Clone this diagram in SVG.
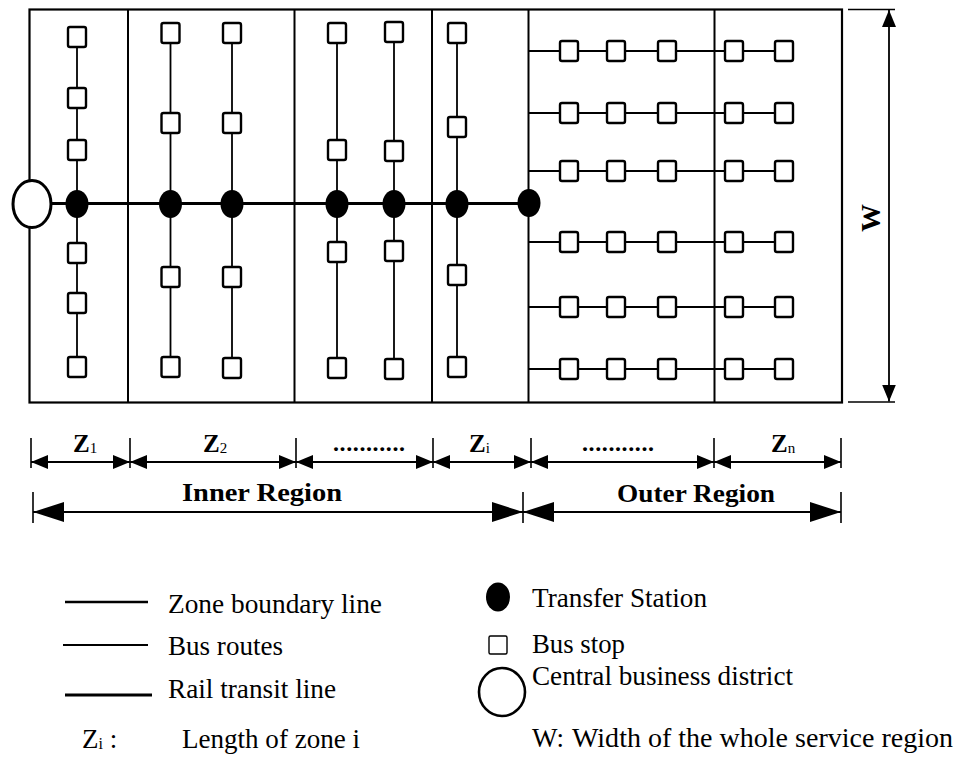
<svg xmlns="http://www.w3.org/2000/svg" width="958" height="758" viewBox="0 0 958 758">
<style>
.frame{fill:none;stroke:#000;stroke-width:2.2}
.zone{stroke:#000;stroke-width:2}
.bus{stroke:#000;stroke-width:1.8;fill:none}
.rail{stroke:#000;stroke-width:3.2}
.stop{fill:#fff;stroke:#000;stroke-width:2.4}
.lstop{fill:#fff;stroke:#000;stroke-width:1.4}
.station{fill:#000}
.cbd{fill:#fff;stroke:#000;stroke-width:3}
.dim{stroke:#000;stroke-width:1.8;fill:none}
.dimS{marker-start:url(#ah);marker-end:url(#ah)}
.dimL{marker-start:url(#ahL);marker-end:url(#ahL)}
.tick{stroke:#000;stroke-width:1.6}
text{font-family:"Liberation Serif","Times New Roman",serif;fill:#000}
.lg{font-size:27px}
.zl{font-size:25px;font-weight:bold}
.sub{font-size:15px;font-weight:normal}
.reg{font-size:25px;font-weight:bold}
.dots{font-size:24px;font-weight:bold}
</style>
<defs>
<marker id="ah" markerUnits="userSpaceOnUse" markerWidth="17" markerHeight="14" refX="17" refY="7" orient="auto-start-reverse" viewBox="0 0 17 14"><path d="M0,0 L17,7 L0,14 z" fill="#000"/></marker>
<marker id="ahL" markerUnits="userSpaceOnUse" markerWidth="31" markerHeight="20" refX="31" refY="10" orient="auto-start-reverse" viewBox="0 0 31 20"><path d="M0,0 L31,10 L0,20 z" fill="#000"/></marker>
</defs>

<g id="region-frame">
<rect class="frame" x="29.5" y="9.5" width="812.5" height="393"/>
<line class="zone" x1="128" y1="9.5" x2="128" y2="402.5"/>
<line class="zone" x1="294.5" y1="9.5" x2="294.5" y2="402.5"/>
<line class="zone" x1="432" y1="9.5" x2="432" y2="402.5"/>
<line class="zone" x1="528.5" y1="9.5" x2="528.5" y2="402.5"/>
<line class="zone" x1="714.5" y1="9.5" x2="714.5" y2="402.5"/>
</g>

<g id="connectors">
<line class="bus" x1="77" y1="37" x2="77" y2="367"/>
<line class="bus" x1="170.5" y1="33" x2="170.5" y2="367"/>
<line class="bus" x1="232" y1="33" x2="232" y2="368"/>
<line class="bus" x1="337" y1="33" x2="337" y2="368"/>
<line class="bus" x1="394" y1="32" x2="394" y2="369"/>
<line class="bus" x1="457" y1="33" x2="457" y2="367"/>
<line class="bus" x1="528.5" y1="51" x2="784" y2="51"/>
<line class="bus" x1="528.5" y1="113" x2="784" y2="113"/>
<line class="bus" x1="528.5" y1="171" x2="784" y2="171"/>
<line class="bus" x1="528.5" y1="242" x2="784" y2="242"/>
<line class="bus" x1="528.5" y1="307" x2="784" y2="307"/>
<line class="bus" x1="528.5" y1="369" x2="784" y2="369"/>
<line class="rail" x1="50" y1="203.5" x2="529" y2="203.5"/>
</g>

<g id="cbd"><ellipse class="cbd" cx="32" cy="204" rx="19" ry="23.5"/></g>

<g id="stations">
<g id="ts1"><ellipse class="station" cx="77" cy="204" rx="11.5" ry="14"/></g>
<g id="ts2"><ellipse class="station" cx="170.5" cy="204" rx="11.5" ry="14"/></g>
<g id="ts3"><ellipse class="station" cx="232" cy="204" rx="11.5" ry="14"/></g>
<g id="ts4"><ellipse class="station" cx="337" cy="204" rx="11.5" ry="14"/></g>
<g id="ts5"><ellipse class="station" cx="394" cy="204" rx="11.5" ry="14"/></g>
<g id="ts6"><ellipse class="station" cx="457" cy="204" rx="11.5" ry="14"/></g>
<g id="ts7"><ellipse class="station" cx="529" cy="203" rx="11.5" ry="14"/></g>
</g>

<g id="stops">
<g id="s1-1"><rect class="stop" x="68" y="27" width="18" height="20" rx="2"/></g>
<g id="s1-2"><rect class="stop" x="68" y="88" width="18" height="20" rx="2"/></g>
<g id="s1-3"><rect class="stop" x="68" y="140" width="18" height="20" rx="2"/></g>
<g id="s1-4"><rect class="stop" x="68" y="243" width="18" height="20" rx="2"/></g>
<g id="s1-5"><rect class="stop" x="68" y="293" width="18" height="20" rx="2"/></g>
<g id="s1-6"><rect class="stop" x="68" y="357" width="18" height="20" rx="2"/></g>

<g id="s2-1"><rect class="stop" x="161.5" y="23" width="18" height="20" rx="2"/></g>
<g id="s2-2"><rect class="stop" x="161.5" y="113" width="18" height="20" rx="2"/></g>
<g id="s2-3"><rect class="stop" x="161.5" y="267" width="18" height="20" rx="2"/></g>
<g id="s2-4"><rect class="stop" x="161.5" y="357" width="18" height="20" rx="2"/></g>

<g id="s3-1"><rect class="stop" x="223" y="23" width="18" height="20" rx="2"/></g>
<g id="s3-2"><rect class="stop" x="223" y="113" width="18" height="20" rx="2"/></g>
<g id="s3-3"><rect class="stop" x="223" y="267" width="18" height="20" rx="2"/></g>
<g id="s3-4"><rect class="stop" x="223" y="358" width="18" height="20" rx="2"/></g>

<g id="s4-1"><rect class="stop" x="328" y="23" width="18" height="20" rx="2"/></g>
<g id="s4-2"><rect class="stop" x="328" y="140" width="18" height="20" rx="2"/></g>
<g id="s4-3"><rect class="stop" x="328" y="242" width="18" height="20" rx="2"/></g>
<g id="s4-4"><rect class="stop" x="328" y="358" width="18" height="20" rx="2"/></g>

<g id="s5-1"><rect class="stop" x="385" y="22" width="18" height="20" rx="2"/></g>
<g id="s5-2"><rect class="stop" x="385" y="141" width="18" height="20" rx="2"/></g>
<g id="s5-3"><rect class="stop" x="385" y="241" width="18" height="20" rx="2"/></g>
<g id="s5-4"><rect class="stop" x="385" y="359" width="18" height="20" rx="2"/></g>

<g id="s6-1"><rect class="stop" x="448" y="23" width="18" height="20" rx="2"/></g>
<g id="s6-2"><rect class="stop" x="448" y="117" width="18" height="20" rx="2"/></g>
<g id="s6-3"><rect class="stop" x="448" y="265" width="18" height="20" rx="2"/></g>
<g id="s6-4"><rect class="stop" x="448" y="357" width="18" height="20" rx="2"/></g>

<g id="o1-1"><rect class="stop" x="560" y="41" width="18" height="20" rx="2"/></g>
<g id="o1-2"><rect class="stop" x="607" y="41" width="18" height="20" rx="2"/></g>
<g id="o1-3"><rect class="stop" x="658" y="41" width="18" height="20" rx="2"/></g>
<g id="o1-4"><rect class="stop" x="725" y="41" width="18" height="20" rx="2"/></g>
<g id="o1-5"><rect class="stop" x="775" y="41" width="18" height="20" rx="2"/></g>

<g id="o2-1"><rect class="stop" x="560" y="103" width="18" height="20" rx="2"/></g>
<g id="o2-2"><rect class="stop" x="607" y="103" width="18" height="20" rx="2"/></g>
<g id="o2-3"><rect class="stop" x="658" y="103" width="18" height="20" rx="2"/></g>
<g id="o2-4"><rect class="stop" x="725" y="103" width="18" height="20" rx="2"/></g>
<g id="o2-5"><rect class="stop" x="775" y="103" width="18" height="20" rx="2"/></g>

<g id="o3-1"><rect class="stop" x="560" y="161" width="18" height="20" rx="2"/></g>
<g id="o3-2"><rect class="stop" x="607" y="161" width="18" height="20" rx="2"/></g>
<g id="o3-3"><rect class="stop" x="658" y="161" width="18" height="20" rx="2"/></g>
<g id="o3-4"><rect class="stop" x="725" y="161" width="18" height="20" rx="2"/></g>
<g id="o3-5"><rect class="stop" x="775" y="161" width="18" height="20" rx="2"/></g>

<g id="o4-1"><rect class="stop" x="560" y="232" width="18" height="20" rx="2"/></g>
<g id="o4-2"><rect class="stop" x="607" y="232" width="18" height="20" rx="2"/></g>
<g id="o4-3"><rect class="stop" x="658" y="232" width="18" height="20" rx="2"/></g>
<g id="o4-4"><rect class="stop" x="725" y="232" width="18" height="20" rx="2"/></g>
<g id="o4-5"><rect class="stop" x="775" y="232" width="18" height="20" rx="2"/></g>

<g id="o5-1"><rect class="stop" x="560" y="297" width="18" height="20" rx="2"/></g>
<g id="o5-2"><rect class="stop" x="607" y="297" width="18" height="20" rx="2"/></g>
<g id="o5-3"><rect class="stop" x="658" y="297" width="18" height="20" rx="2"/></g>
<g id="o5-4"><rect class="stop" x="725" y="297" width="18" height="20" rx="2"/></g>
<g id="o5-5"><rect class="stop" x="775" y="297" width="18" height="20" rx="2"/></g>

<g id="o6-1"><rect class="stop" x="560" y="359" width="18" height="20" rx="2"/></g>
<g id="o6-2"><rect class="stop" x="607" y="359" width="18" height="20" rx="2"/></g>
<g id="o6-3"><rect class="stop" x="658" y="359" width="18" height="20" rx="2"/></g>
<g id="o6-4"><rect class="stop" x="725" y="359" width="18" height="20" rx="2"/></g>
<g id="o6-5"><rect class="stop" x="775" y="359" width="18" height="20" rx="2"/></g>
</g>

<g id="width-dimension">
<line class="tick" x1="848" y1="9.5" x2="895" y2="9.5"/>
<line class="tick" x1="848" y1="402" x2="895" y2="402"/>
<line class="dim dimS" x1="889" y1="10" x2="889" y2="401.5"/>
<text transform="translate(880,218) rotate(-90)" text-anchor="middle" style="font-size:28px;font-weight:bold">W</text>
</g>

<g id="zone-dimensions">
<line class="tick" x1="31" y1="438" x2="31" y2="468"/>
<line class="tick" x1="130" y1="438" x2="130" y2="468"/>
<line class="tick" x1="296" y1="438" x2="296" y2="468"/>
<line class="tick" x1="433" y1="438" x2="433" y2="468"/>
<line class="tick" x1="531" y1="438" x2="531" y2="468"/>
<line class="tick" x1="714" y1="438" x2="714" y2="468"/>
<line class="tick" x1="841" y1="438" x2="841" y2="468"/>
<line class="dim dimS" x1="31" y1="462" x2="130" y2="462"/>
<line class="dim dimS" x1="130" y1="462" x2="296" y2="462"/>
<line class="dim dimS" x1="296" y1="462" x2="433" y2="462"/>
<line class="dim dimS" x1="433" y1="462" x2="531" y2="462"/>
<line class="dim dimS" x1="531" y1="462" x2="714" y2="462"/>
<line class="dim dimS" x1="714" y1="462" x2="841" y2="462"/>
<text class="zl" x="73" y="452">Z<tspan class="sub" dy="1">1</tspan></text>
<text class="zl" x="203" y="452">Z<tspan class="sub" dy="1">2</tspan></text>
<text class="dots" x="333" y="451" textLength="72" lengthAdjust="spacing">...........</text>
<text class="zl" x="469" y="452">Z<tspan class="sub" dy="1">i</tspan></text>
<text class="dots" x="582" y="451" textLength="72" lengthAdjust="spacing">...........</text>
<text class="zl" x="771" y="452">Z<tspan class="sub" dy="1">n</tspan></text>
</g>

<g id="region-dimensions">
<line class="tick" x1="33" y1="492" x2="33" y2="523"/>
<line class="tick" x1="523" y1="492" x2="523" y2="523"/>
<line class="tick" x1="841" y1="492" x2="841" y2="523"/>
<line class="dim dimL" x1="33" y1="512" x2="523" y2="512"/>
<line class="dim dimL" x1="523" y1="512" x2="841" y2="512"/>
<text class="reg" x="182" y="501" textLength="160" lengthAdjust="spacingAndGlyphs">Inner Region</text>
<text class="reg" x="617" y="502" textLength="158" lengthAdjust="spacingAndGlyphs">Outer Region</text>
</g>

<g id="legend">
<line class="zone" x1="65" y1="602" x2="148" y2="602" style="stroke-width:2.4"/>
<text class="lg" x="168" y="613" textLength="214" lengthAdjust="spacingAndGlyphs">Zone boundary line</text>
<line class="bus" x1="63" y1="645" x2="148" y2="645"/>
<text class="lg" x="168" y="655" textLength="115" lengthAdjust="spacingAndGlyphs">Bus routes</text>
<line class="rail" x1="65" y1="695" x2="152" y2="695"/>
<text class="lg" x="168" y="698" textLength="168" lengthAdjust="spacingAndGlyphs">Rail transit line</text>
<text class="lg" x="82" y="748">Z<tspan style="font-size:16px" dy="1">i</tspan><tspan dy="-1"> :</tspan></text>
<text class="lg" x="182" y="748" textLength="178" lengthAdjust="spacingAndGlyphs">Length of zone i</text>

<ellipse class="station" cx="498" cy="597" rx="12" ry="14.5"/>
<text class="lg" x="532" y="607" textLength="175" lengthAdjust="spacingAndGlyphs">Transfer Station</text>
<rect class="lstop" x="489" y="636" width="18" height="18" rx="1.5"/>
<text class="lg" x="532" y="653" textLength="93" lengthAdjust="spacingAndGlyphs">Bus stop</text>
<ellipse class="cbd" cx="502" cy="692" rx="23" ry="24" style="stroke-width:2.6"/>
<text class="lg" x="532" y="685" textLength="261" lengthAdjust="spacingAndGlyphs">Central business district</text>
<text class="lg" x="532" y="747">W:<tspan x="572" textLength="381" lengthAdjust="spacingAndGlyphs">Width of the whole service region</tspan></text>
</g>
</svg>
